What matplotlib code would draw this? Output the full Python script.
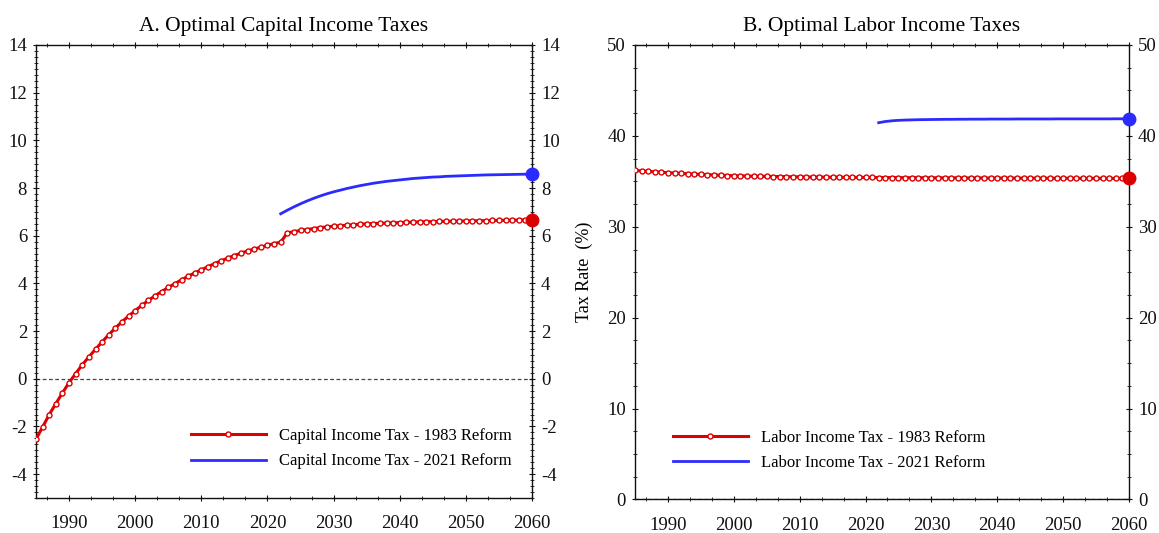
import matplotlib
matplotlib.use("Agg")
import matplotlib.pyplot as plt
from matplotlib.ticker import MultipleLocator, AutoMinorLocator
import numpy as np

years_1983 = list(range(1985, 2061))
years_2021 = list(range(2022, 2061))

cap_1983 = [-2.53, -2.02, -1.50, -1.04, -0.59, -0.16, 0.22, 0.59, 0.92, 1.24,
            1.55, 1.85, 2.13, 2.39, 2.63, 2.86, 3.08, 3.29, 3.48, 3.66,
            3.83, 3.99, 4.15, 4.30, 4.44, 4.57, 4.70, 4.83, 4.95, 5.06,
            5.17, 5.27, 5.36, 5.44, 5.52, 5.60, 5.67, 5.73,
            6.12, 6.17, 6.22, 6.26, 6.30, 6.34, 6.37, 6.40, 6.42, 6.44,
            6.46, 6.48, 6.50, 6.51, 6.52, 6.53, 6.54, 6.55, 6.56, 6.57,
            6.58, 6.59, 6.59, 6.60, 6.60, 6.61, 6.61, 6.62, 6.62, 6.63,
            6.63, 6.64, 6.64, 6.65, 6.65, 6.66, 6.66, 6.67]
cap_2021 = [6.92, 7.07, 7.21, 7.34, 7.46, 7.57, 7.67, 7.76, 7.84, 7.91,
            7.98, 8.04, 8.10, 8.15, 8.20, 8.24, 8.28, 8.31, 8.34, 8.37,
            8.40, 8.42, 8.44, 8.46, 8.47, 8.49, 8.50, 8.51, 8.52, 8.53,
            8.54, 8.55, 8.555, 8.56, 8.565, 8.57, 8.575, 8.58, 8.58]

lab_1983 = [36.20, 36.15, 36.10, 36.05, 36.00, 35.95, 35.91, 35.87, 35.83, 35.79,
            35.76, 35.73, 35.70, 35.67, 35.64, 35.62, 35.60, 35.58, 35.56, 35.55,
            35.54, 35.53, 35.52, 35.51, 35.50, 35.49, 35.48, 35.47, 35.47, 35.46,
            35.46, 35.45, 35.45, 35.44, 35.44, 35.43, 35.43, 35.42,
            35.42, 35.41, 35.41, 35.40, 35.40, 35.40, 35.39, 35.39, 35.39, 35.38,
            35.38, 35.38, 35.37, 35.37, 35.37, 35.37, 35.36, 35.36, 35.36, 35.36,
            35.35, 35.35, 35.35, 35.35, 35.35, 35.34, 35.34, 35.34, 35.34, 35.34,
            35.33, 35.33, 35.33, 35.33, 35.33, 35.33, 35.32, 35.32]
lab_2021 = [41.45, 41.58, 41.66, 41.71, 41.74, 41.76, 41.78, 41.79, 41.80, 41.81,
            41.82, 41.82, 41.83, 41.83, 41.84, 41.84, 41.84, 41.85, 41.85, 41.85,
            41.85, 41.86, 41.86, 41.86, 41.86, 41.86, 41.86, 41.87, 41.87, 41.87,
            41.87, 41.87, 41.87, 41.87, 41.87, 41.87, 41.88, 41.88, 41.88]

RED = "#dd0000"
BLUE = "#2b2bff"

plt.rcParams['font.family'] = ['Liberation Serif', 'DejaVu Serif']
plt.rcParams['axes.unicode_minus'] = False

fig = plt.figure(figsize=(11.59, 5.33), dpi=100)
axA = fig.add_axes([0.0311, 0.0657, 0.4279, 0.8499])
axB = fig.add_axes([0.5479, 0.0629, 0.4262, 0.8527])


def style(ax, ymin, ymax, ymaj, yminor_n):
    ax.set_xlim(1985, 2060)
    ax.set_ylim(ymin, ymax)
    ax.xaxis.set_major_locator(MultipleLocator(10))
    ax.xaxis.set_minor_locator(AutoMinorLocator(3))
    ax.yaxis.set_major_locator(MultipleLocator(ymaj))
    ax.yaxis.set_minor_locator(AutoMinorLocator(yminor_n))
    ax.tick_params(which='both', top=True, right=True,
                   labelright=True, labelsize=13.5, colors='#111111')
    ax.tick_params(which='major', direction='inout', length=5, width=0.8)
    ax.tick_params(which='minor', direction='inout', length=2.5, width=0.6)
    ax.tick_params(axis='x', pad=10)
    ax.tick_params(axis='y', pad=4)
    for s in ax.spines.values():
        s.set_linewidth(1.0)
        s.set_color('#111111')


def plot_panel(ax, y83, y21, lab83, lab21):
    ax.axhline(0, color='#444444', lw=0.9, ls=(0, (3, 2)), zorder=1)
    ax.plot(years_1983, y83, color=RED, lw=2.2, marker='o', ms=3.6,
            mfc='white', mec=RED, mew=1.0, label=lab83, zorder=3)
    ax.plot(years_2021, y21, color=BLUE, lw=2, label=lab21, zorder=3)
    ax.plot([years_1983[-1]], [y83[-1]], 'o', color=RED, ms=9, zorder=4,
            clip_on=False)
    ax.plot([years_2021[-1]], [y21[-1]], 'o', color=BLUE, ms=9, zorder=4,
            clip_on=False)


plot_panel(axA, cap_1983, cap_2021,
           "Capital Income Tax - 1983 Reform", "Capital Income Tax - 2021 Reform")
style(axA, -5, 14, 2, 8)
axA.set_title("A. Optimal Capital Income Taxes", fontsize=15.5, pad=10)
legA = axA.legend(loc='lower right', bbox_to_anchor=(0.99, 0.03), frameon=False,
                  fontsize=12, handlelength=4.5, numpoints=1, handletextpad=0.8,
                  labelspacing=0.55)

plot_panel(axB, lab_1983, lab_2021,
           "Labor Income Tax - 1983 Reform", "Labor Income Tax - 2021 Reform")
style(axB, 0, 50, 10, 4)
axB.set_title("B. Optimal Labor Income Taxes", fontsize=15.5, pad=10)
axB.set_ylabel("Tax Rate  (%)", fontsize=13, labelpad=10)
legB = axB.legend(loc='lower left', bbox_to_anchor=(0.046, 0.03), frameon=False,
                  fontsize=12, handlelength=4.5, numpoints=1, handletextpad=0.8,
                  labelspacing=0.55)

fig.savefig("out.png", dpi=100)
